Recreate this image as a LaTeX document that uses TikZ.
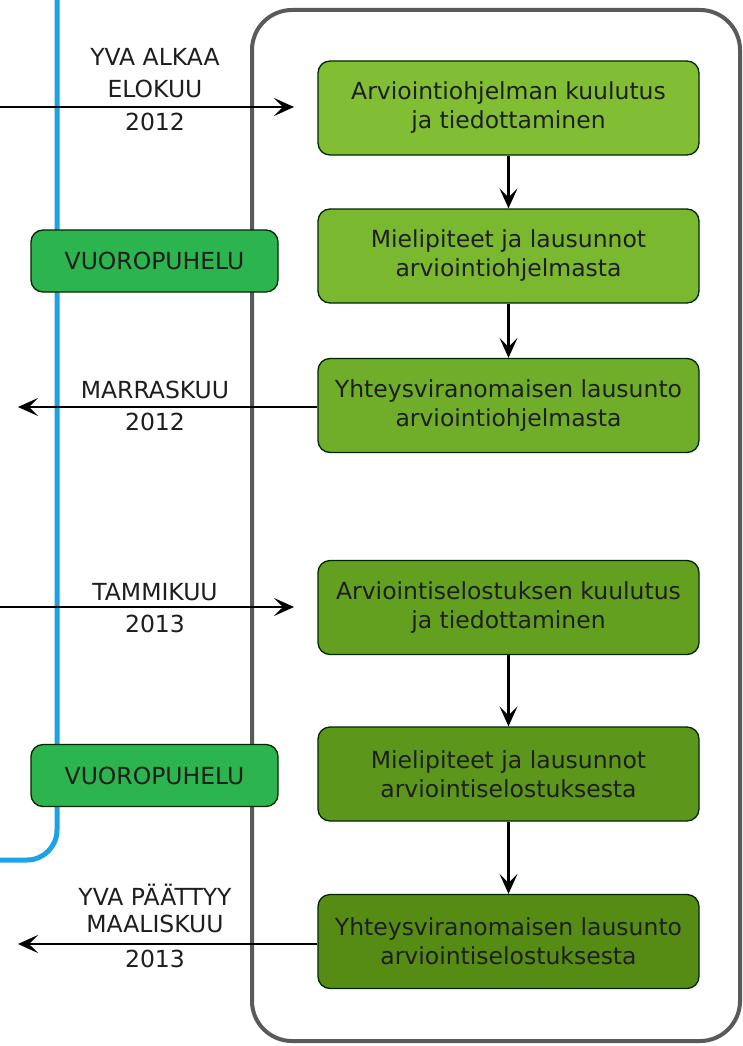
\documentclass[tikz,border=0pt]{standalone}
\usepackage{fontspec}
\setmainfont{DejaVu Sans}
\usetikzlibrary{arrows.meta}
\definecolor{framegray}{HTML}{5A5A58}
\definecolor{blueline}{HTML}{1BA3E6}
\definecolor{gA}{HTML}{82BE34}
\definecolor{gB}{HTML}{7AB830}
\definecolor{gC}{HTML}{70AE2A}
\definecolor{gD}{HTML}{64A020}
\definecolor{gE}{HTML}{5C961A}
\definecolor{gF}{HTML}{568C14}
\definecolor{talkgreen}{HTML}{2CB44E}
\definecolor{txt}{HTML}{1E1E1E}
\begin{document}
\begin{tikzpicture}[x=1pt,y=-1pt,
  stepbox/.style={draw=black!85!green, line width=1.3pt, rounded corners=12pt,
    minimum width=381pt, minimum height=94pt, align=center, text=txt,
    font=\fontsize{23.5}{29}\selectfont},
  talkbox/.style={draw=black!85!green, line width=1.3pt, rounded corners=12pt,
    fill=talkgreen, minimum width=247pt, minimum height=62pt, text=txt,
    font=\fontsize{23.5}{29}\selectfont},
  lbl/.style={align=center, text=txt, font=\fontsize{23.5}{32}\selectfont, inner sep=0pt},
  arr/.style={-{Stealth[length=20pt,width=18pt,inset=9pt]}, line width=2.2pt, black}]
\useasboundingbox (0,0) rectangle (743,1046);
\fill[white] (0,0) rectangle (743,1046);
% blue timeline
\draw[blueline, line width=5pt, rounded corners=30pt] (57,-5) -- (57,860) -- (-5,860);
% gray frame
\draw[framegray, line width=4pt, rounded corners=40pt] (252,10) rectangle (740,1041);
% step boxes
\node[stepbox, fill=gA] (b1) at (508.5,108) {Arviointiohjelman kuulutus\\ja tiedottaminen};
\node[stepbox, fill=gB] (b2) at (508.5,256) {Mielipiteet ja lausunnot\\arviointiohjelmasta};
\node[stepbox, fill=gC] (b3) at (508.5,405.5) {Yhteysviranomaisen lausunto\\arviointiohjelmasta};
\node[stepbox, fill=gD] (b4) at (508.5,607.5) {Arviointiselostuksen kuulutus\\ja tiedottaminen};
\node[stepbox, fill=gE] (b5) at (508.5,774) {Mielipiteet ja lausunnot\\arviointiselostuksesta};
\node[stepbox, fill=gF] (b6) at (508.5,941.5) {Yhteysviranomaisen lausunto\\arviointiselostuksesta};
% vertical arrows
\draw[arr] (b1) -- (b2);
\draw[arr] (b2) -- (b3);
\draw[arr] (b4) -- (b5);
\draw[arr] (b5) -- (b6);
% horizontal arrows
\coordinate (s1) at (0,107);
\coordinate (e1) at (294,107);
\coordinate (e2) at (18,407);
\coordinate (s3) at (0,607);
\coordinate (e3) at (294,607);
\coordinate (e4) at (18,944);
\draw[arr] (s1) -- (e1);
\draw[arr] (b3.west |- e2) -- (e2);
\draw[arr] (s3) -- (e3);
\draw[arr] (b6.west |- e4) -- (e4);
% labels
\node[lbl] (l1a) at (155,73) {YVA ALKAA\\ELOKUU};
\node[lbl] (l1b) at (155,122) {2012};
\node[lbl] (l2a) at (155,390) {MARRASKUU};
\node[lbl] (l2b) at (155,422) {2012};
\node[lbl] (l3a) at (155,592) {TAMMIKUU};
\node[lbl] (l3b) at (155,624) {2013};
\node[lbl, font=\fontsize{23.5}{27}\selectfont] (l4a) at (155,908) {YVA PÄÄTTYY\\MAALISKUU};
\node[lbl] (l4b) at (155,959) {2013};
% dialogue boxes
\node[talkbox] (t1) at (154.5,261) {VUOROPUHELU};
\node[talkbox] (t2) at (154.5,775.5) {VUOROPUHELU};
\end{tikzpicture}
\end{document}
